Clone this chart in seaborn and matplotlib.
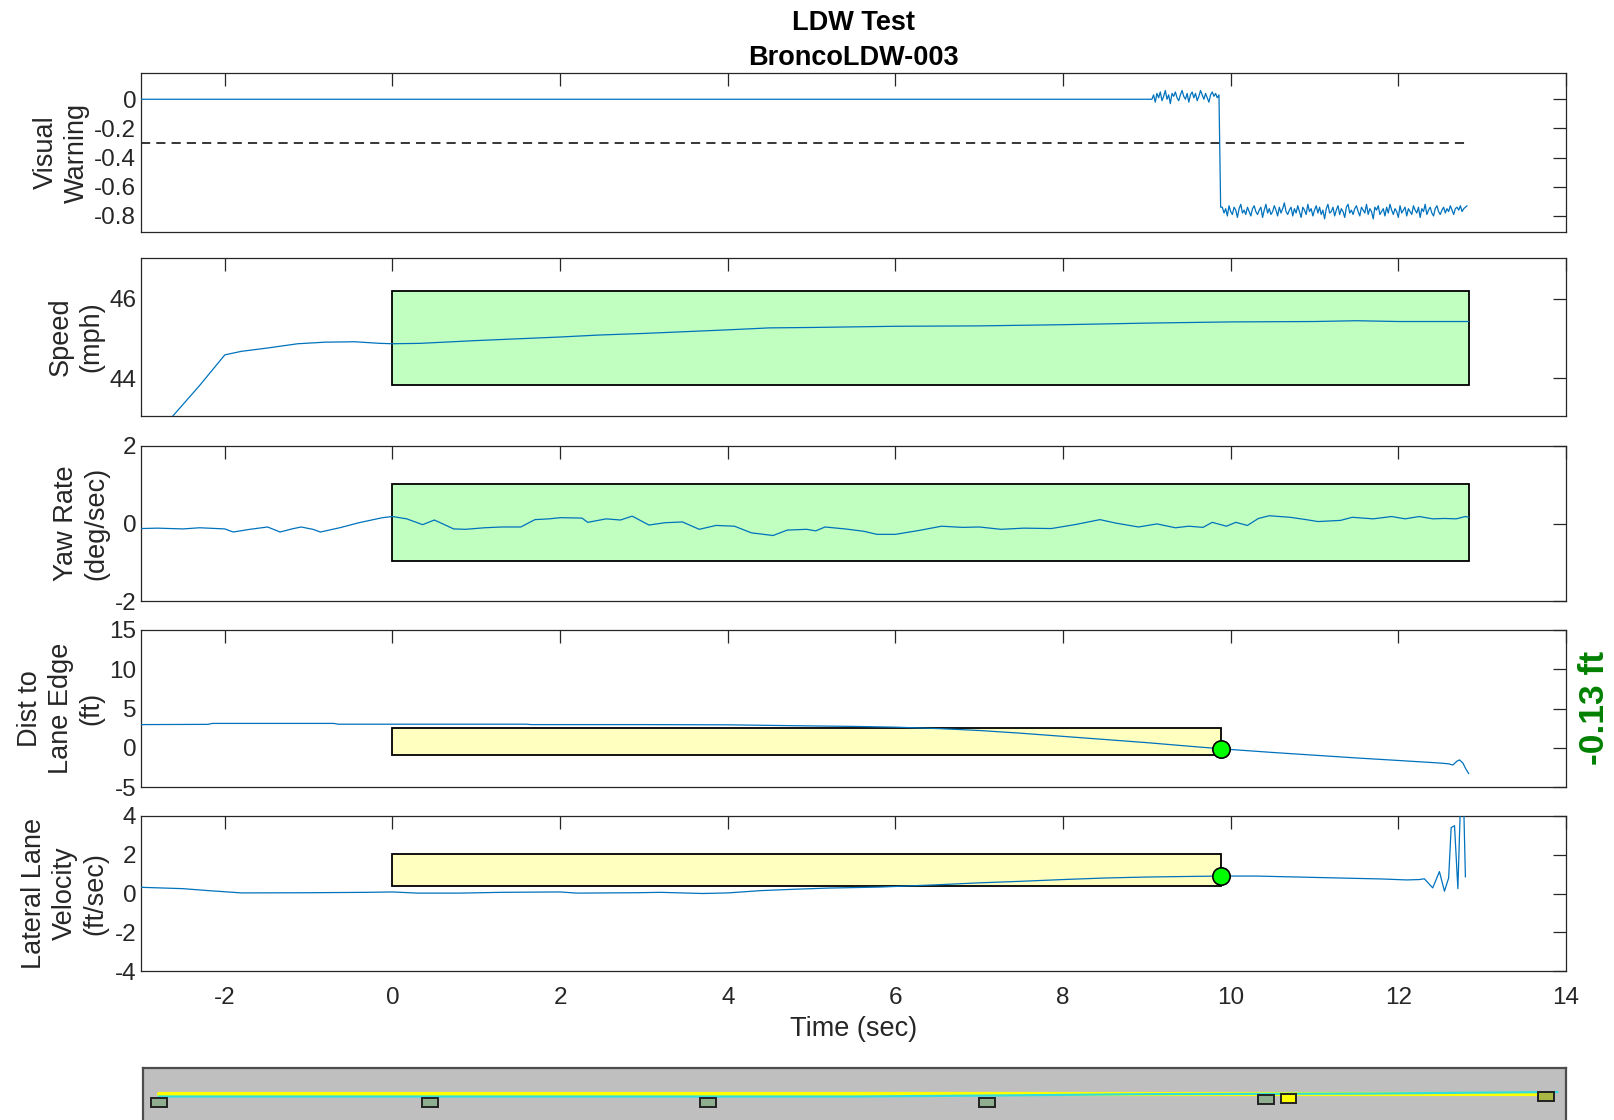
import numpy as np
import matplotlib
matplotlib.use("Agg")
import matplotlib.pyplot as plt
from matplotlib.patches import Rectangle
import seaborn as sns

# ------------------------------------------------------------------
# Test data: LDW run BroncoLDW-003
# ------------------------------------------------------------------
title_lines = ["LDW Test", "BroncoLDW-003"]
x_ticks = [-2, 0, 2, 4, 6, 8, 10, 12, 14]

# Visual warning signal: idle level, noisy pre-warning level, warning level
warn_idle_t = [-3.0, 9.05]
warn_idle_v = [0.0, 0.0]
warn_pre_v = [0.00, 0.03, -0.02, 0.04, 0.01, 0.05, -0.01, 0.02, 0.06, 0.00,
              0.03, -0.03, 0.04, 0.02, 0.05, 0.01, -0.01, 0.03, 0.06, 0.02,
              0.00, 0.04, -0.02, 0.03, 0.05, 0.01, 0.04, -0.01, 0.02, 0.06,
              0.03, 0.00, 0.04, 0.01, -0.02, 0.03, 0.05, 0.02, 0.04, 0.01, 0.03]
warn_drop_t = 9.88
warn_drop_v = -0.74
warn_on_v = [-0.74, -0.78, -0.75, -0.80, -0.73, -0.77, -0.79, -0.74, -0.76, -0.81,
             -0.75, -0.72, -0.78, -0.76, -0.79, -0.74, -0.77, -0.80, -0.75, -0.73,
             -0.77, -0.79, -0.76, -0.74, -0.81, -0.76, -0.72, -0.78, -0.75, -0.79,
             -0.77, -0.73, -0.76, -0.80, -0.74, -0.78, -0.75, -0.71, -0.77, -0.79,
             -0.76, -0.74, -0.80, -0.75, -0.78, -0.73, -0.77, -0.81, -0.74, -0.76,
             -0.79, -0.72, -0.77, -0.75, -0.80, -0.76, -0.73, -0.78, -0.74, -0.79,
             -0.76, -0.82, -0.75, -0.72, -0.78, -0.77, -0.74, -0.80, -0.76, -0.73,
             -0.79, -0.75, -0.77, -0.81, -0.74, -0.72, -0.78, -0.76, -0.79, -0.75,
             -0.73, -0.77, -0.80, -0.74, -0.76, -0.78, -0.72, -0.79, -0.75, -0.77,
             -0.82, -0.74, -0.76, -0.73, -0.79, -0.77, -0.75, -0.80, -0.74, -0.78,
             -0.72, -0.76, -0.79, -0.75, -0.77, -0.81, -0.73, -0.78, -0.76, -0.74,
             -0.80, -0.75, -0.77, -0.79, -0.73, -0.76, -0.78, -0.74, -0.81, -0.75,
             -0.77, -0.72, -0.79, -0.76, -0.74, -0.78, -0.80, -0.75, -0.73, -0.77,
             -0.79, -0.76, -0.74, -0.78, -0.75, -0.77, -0.73, -0.76, -0.79, -0.75,
             -0.74, -0.76, -0.73, -0.77, -0.75, -0.74, -0.73]
warn_threshold = -0.3

# Speed (mph)
speed_t = [-3.0, -2.62, -2.3, -2.0, -1.8, -1.5, -1.13, -0.8, -0.45, -0.15, 0.0,
           0.33, 1.0, 2.0, 2.47, 3.0, 4.0, 4.5, 5.0, 6.0, 7.0, 8.0, 9.0, 10.0,
           11.0, 11.5, 12.0, 12.84]
speed_v = [42.15, 43.05, 43.82, 44.59, 44.68, 44.76, 44.87, 44.91, 44.92, 44.88,
           44.87, 44.88, 44.95, 45.04, 45.09, 45.13, 45.22, 45.27, 45.28, 45.31,
           45.32, 45.35, 45.39, 45.42, 45.43, 45.45, 45.43, 45.43]
speed_box = (0.0, 12.84, 43.84, 46.21)

# Yaw rate (deg/sec)
yaw_t = [-3.0, -2.8, -2.5, -2.3, -2.0, -1.9, -1.7, -1.49, -1.34, -1.2, -1.09,
         -0.95, -0.86, -0.63, -0.4, -0.12, 0.0, 0.17, 0.36, 0.5, 0.73, 0.87,
         1.1, 1.3, 1.53, 1.7, 1.87, 2.0, 2.26, 2.33, 2.55, 2.72, 2.86, 3.06,
         3.25, 3.46, 3.66, 3.86, 4.08, 4.28, 4.54, 4.71, 4.94, 5.05, 5.16,
         5.4, 5.62, 5.78, 6.0, 6.28, 6.55, 6.8, 7.0, 7.26, 7.53, 7.86, 8.14,
         8.44, 8.63, 8.9, 9.12, 9.34, 9.5, 9.67, 9.78, 9.95, 10.06, 10.2,
         10.33, 10.46, 10.71, 10.9, 11.04, 11.31, 11.45, 11.7, 11.92, 12.08,
         12.25, 12.41, 12.55, 12.69, 12.8, 12.84]
yaw_v = [-0.13, -0.12, -0.14, -0.11, -0.14, -0.22, -0.15, -0.09, -0.22, -0.14,
         -0.09, -0.15, -0.22, -0.11, 0.02, 0.15, 0.18, 0.12, -0.03, 0.09, -0.14,
         -0.15, -0.11, -0.09, -0.09, 0.10, 0.12, 0.15, 0.14, 0.03, 0.12, 0.09,
         0.19, -0.04, 0.02, 0.04, -0.15, -0.05, -0.07, -0.24, -0.31, -0.17,
         -0.15, -0.19, -0.09, -0.14, -0.20, -0.28, -0.28, -0.18, -0.07, -0.10,
         -0.09, -0.15, -0.12, -0.13, -0.03, 0.10, 0.01, -0.09, -0.01, -0.11,
         -0.07, -0.10, 0.03, -0.07, 0.03, -0.05, 0.13, 0.20, 0.16, 0.10, 0.05,
         0.08, 0.16, 0.12, 0.18, 0.12, 0.18, 0.12, 0.13, 0.12, 0.18, 0.16]
yaw_box = (0.0, 12.84, -0.97, 1.03)

# Distance to lane edge (ft)
dist_t = [-3.0, -2.2, -2.15, -0.7, -0.65, 1.6, 1.65, 3.0, 4.0, 4.5, 5.0, 5.5,
          6.0, 6.5, 7.0, 7.5, 8.0, 8.5, 9.0, 9.5, 9.88, 10.0, 10.5, 11.0,
          11.5, 12.0, 12.5, 12.6, 12.65, 12.7, 12.73, 12.77, 12.8, 12.84]
dist_v = [2.95, 2.98, 3.1, 3.1, 3.0, 3.0, 2.95, 2.95, 2.92, 2.85, 2.78, 2.72,
          2.62, 2.45, 2.2, 1.85, 1.45, 1.05, 0.65, 0.2, -0.13, -0.22, -0.6,
          -0.95, -1.3, -1.62, -1.95, -2.05, -2.2, -1.7, -1.55, -1.95, -2.6, -3.3]
dist_box = (0.0, 9.88, -0.9, 2.5)
dist_at_warning = -0.13

# Lateral lane velocity (ft/sec)
latv_t = [-3.0, -2.5, -2.2, -1.8, -1.0, -0.3, 0.0, 0.3, 0.8, 1.3, 2.0, 2.2,
          2.9, 3.2, 3.7, 4.0, 4.4, 4.8, 5.2, 5.8, 6.5, 7.0, 7.5, 8.0, 8.5,
          9.0, 9.5, 9.88, 10.3, 10.8, 11.3, 11.8, 12.1, 12.25, 12.31, 12.41,
          12.49, 12.55, 12.6, 12.63, 12.67, 12.71, 12.74, 12.78, 12.8]
latv_v = [0.32, 0.25, 0.15, 0.03, 0.04, 0.06, 0.08, 0.02, 0.02, 0.06, 0.08,
          0.02, 0.04, 0.06, 0.0, 0.03, 0.15, 0.22, 0.28, 0.33, 0.45, 0.55,
          0.63, 0.72, 0.8, 0.85, 0.88, 0.9, 0.9, 0.85, 0.8, 0.75, 0.7, 0.72,
          0.76, 0.29, 1.13, 0.12, 0.8, 3.4, 3.5, 0.25, 4.5, 4.5, 0.85]
latv_box = (0.0, 9.88, 0.37, 2.05)
latv_at_warning = 0.9

# Top-down track strip (percent of run length, strip units)
cone_x = [1.1, 20.2, 39.7, 59.3, 78.9]
cone_y = [18, 18, 18, 18, 21]
vehicle_x, vehicle_y = 80.5, 22
end_x, end_y = 98.6, 24
lane_line_x = [1.1, 98.6]
lane_line_y = [26, 26]
path_x = [1.1, 50.0, 60.0, 70.0, 86.6, 99.4]
path_y = [23.5, 23.5, 24.5, 25.8, 26.5, 28]

# ------------------------------------------------------------------
# Styling
# ------------------------------------------------------------------
sns.set_style("white")
plt.rcParams["font.family"] = ["Liberation Sans", "DejaVu Sans"]
plt.rcParams["axes.unicode_minus"] = False

BLUE = "#0072BD"
INK = "#262626"
GREEN_BOX = "#C0FFC0"
YELLOW_BOX = "#FFFFC0"
DOT = "#00FF00"

fig = plt.figure(figsize=(16.14, 11.2), dpi=100)

L, W = 141 / 1614, 1425 / 1614
panel_px = [(73, 232), (258, 416), (446, 601), (630, 787), (816, 971)]
axes = [fig.add_axes([L, 1 - b / 1120, W, (b - t) / 1120]) for t, b in panel_px]


def style(ax, ylim, yticks, label, label_x, show_x=False):
    ax.set_xlim(-3, 14)
    ax.set_xticks(x_ticks)
    ax.set_ylim(*ylim)
    ax.set_yticks(yticks)
    ax.set_yticklabels([f"{v:g}" for v in yticks])
    ax.tick_params(axis="both", direction="in", length=9.5, width=0.9,
                   top=True, right=True, colors=INK, labelsize=17.5)
    ax.tick_params(axis="y", pad=3.5)
    ax.tick_params(axis="x", pad=11.5, labelbottom=show_x)
    for s in ax.spines.values():
        s.set_color(INK)
        s.set_linewidth(0.9)
    ax.set_ylabel(label, fontsize=19.5, color=INK, linespacing=1.22)
    ax.yaxis.set_label_coords(label_x, 0.5)
    ax.set_xlabel("")


def box(ax, spec, color):
    x0, x1, y0, y1 = spec
    ax.add_patch(Rectangle((x0, y0), x1 - x0, y1 - y0, facecolor=color,
                           edgecolor="black", linewidth=1.3, zorder=1))


def trace(ax, t, v):
    sns.lineplot(x=t, y=v, ax=ax, color=BLUE, linewidth=0.9,
                 estimator=None, sort=False, zorder=3)


# Panel 1: visual warning
ax = axes[0]
pre_t = list(np.linspace(9.06, 9.86, len(warn_pre_v)))
on_t = list(np.linspace(9.90, 12.82, len(warn_on_v)))
trace(ax, warn_idle_t + pre_t + [warn_drop_t] + on_t,
      warn_idle_v + warn_pre_v + [warn_drop_v] + warn_on_v)
ax.plot([-3, 12.84], [warn_threshold, warn_threshold], color="black",
        linestyle=(0, (6, 4)), linewidth=1.1, zorder=2)
style(ax, (-0.91, 0.18), [-0.8, -0.6, -0.4, -0.2, 0], "Visual\nWarning", -0.036)
ax.set_title("\n".join(title_lines), fontsize=19.5, fontweight="bold",
             color="black", pad=5.8, linespacing=1.43)

# Panel 2: speed
ax = axes[1]
box(ax, speed_box, GREEN_BOX)
trace(ax, speed_t, speed_v)
style(ax, (43.05, 47.03), [44, 46], "Speed\n(mph)", -0.026)

# Panel 3: yaw rate
ax = axes[2]
box(ax, yaw_box, GREEN_BOX)
trace(ax, yaw_t, yaw_v)
style(ax, (-2, 2), [-2, 0, 2], "Yaw Rate\n(deg/sec)", -0.022)

# Panel 4: distance to lane edge
ax = axes[3]
box(ax, dist_box, YELLOW_BOX)
trace(ax, dist_t, dist_v)
ax.plot([dist_box[1]], [dist_at_warning], "o", ms=12.5, mfc=DOT, mec="black",
        mew=1.2, zorder=5)
style(ax, (-5, 15), [-5, 0, 5, 10, 15], "Dist to\nLane Edge\n(ft)", -0.026)
fig.text(1595 / 1614, 1 - 708 / 1120, f"{dist_at_warning:.2f} ft", rotation=90,
         ha="center", va="center", fontsize=25.5, fontweight="bold", color="#008000")

# Panel 5: lateral lane velocity
ax = axes[4]
box(ax, latv_box, YELLOW_BOX)
trace(ax, latv_t, latv_v)
ax.plot([latv_box[1]], [latv_at_warning], "o", ms=12.5, mfc=DOT, mec="black",
        mew=1.2, zorder=5)
style(ax, (-4, 4), [-4, -2, 0, 2, 4], "Lateral Lane\nVelocity\n(ft/sec)", -0.023,
      show_x=True)
ax.set_xlabel("Time (sec)", fontsize=19.5, color=INK, labelpad=5)

# Track strip
sx = fig.add_axes([143 / 1614, 0, 1423 / 1614, 52 / 1120])
sx.set_facecolor("#BFBFBF")
sx.set_xlim(0, 100)
sx.set_ylim(0, 52)
sx.set_xticks([])
sx.set_yticks([])
for name, s in sx.spines.items():
    s.set_color("#4D4D4D")
    s.set_linewidth(1.6)
sx.spines["bottom"].set_visible(False)
sns.lineplot(x=lane_line_x, y=lane_line_y, ax=sx, color="#FFFF00", linewidth=3,
             estimator=None, sort=False)
sns.lineplot(x=path_x, y=path_y, ax=sx, color="#33DDDD", linewidth=1.6,
             estimator=None, sort=False)
mw, mh = 1.12, 9
for cx, cy in zip(cone_x, cone_y):
    sx.add_patch(Rectangle((cx - mw / 2, cy - mh / 2), mw, mh, facecolor="#8FAE8F",
                           edgecolor="#222222", linewidth=1.4, zorder=4))
sx.add_patch(Rectangle((vehicle_x - mw / 2, vehicle_y - mh / 2), mw, mh,
                       facecolor="#FFFF00", edgecolor="#222222", linewidth=1.4, zorder=4))
sx.add_patch(Rectangle((end_x - mw / 2, end_y - mh / 2), mw, mh,
                       facecolor="#A9B845", edgecolor="#222222", linewidth=1.4, zorder=4))

fig.savefig("out.png", dpi=100)
